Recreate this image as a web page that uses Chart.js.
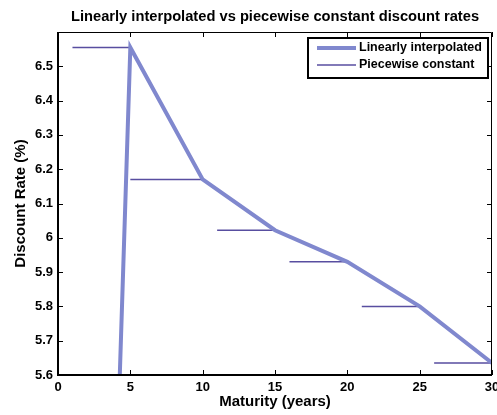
<!DOCTYPE html>
<html>
<head>
<meta charset="utf-8">
<script src="https://cdn.jsdelivr.net/npm/chart.js@4.4.1/dist/chart.umd.min.js"></script>
<style>
  html, body { margin: 0; padding: 0; background: #fff; }
</style>
</head>
<body>
<canvas id="myChart" width="497" height="415"></canvas>
<script>
// linearly interpolated curve
var maturities = [0, 5, 10, 15, 20, 25, 30];
var linearRates = [0, 6.555, 6.17, 6.022, 5.93, 5.80, 5.635];

// piecewise constant segments
var segStart = [1, 5, 11, 16, 21, 26];
var segEnd = [5, 10, 15, 20, 25, 30];
var segRates = [6.555, 6.17, 6.022, 5.93, 5.80, 5.635];

var xTicks = [0, 5, 10, 15, 20, 25, 30];
var yTicks = [5.6, 5.7, 5.8, 5.9, 6, 6.1, 6.2, 6.3, 6.4, 6.5];

var titleText = 'Linearly interpolated vs piecewise constant discount rates';
var FONT = "'Liberation Sans', Arial, sans-serif";

var linearColor = 'rgb(128,136,206)';
var pieceColor = 'rgb(88,78,160)';

// build points
var linearPoints = maturities.map(function(m, i) {
  return { x: m, y: linearRates[i] };
});
var piecePoints = [];
for (var i in segStart) {
  piecePoints.push({ x: segStart[i], y: segRates[i] });
  piecePoints.push({ x: segEnd[i], y: segRates[i] });
  piecePoints.push({ x: segEnd[i], y: null });
}

// frame, inward ticks, title, legend
var decorPlugin = {
  id: 'decor',
  afterDraw: function(chart) {
    var ctx = chart.ctx;
    var a = chart.chartArea;
    var xs = chart.scales.x, ys = chart.scales.y;
    ctx.save();
    ctx.strokeStyle = '#000';
    ctx.lineWidth = 1;
    ctx.beginPath();
    xTicks.forEach(function(t) {
      var px = Math.round(xs.getPixelForValue(t)) + 0.5;
      ctx.moveTo(px, a.bottom); ctx.lineTo(px, a.bottom - 5);
      ctx.moveTo(px, a.top); ctx.lineTo(px, a.top + 5);
    });
    yTicks.forEach(function(t) {
      var py = Math.round(ys.getPixelForValue(t)) + 0.5;
      ctx.moveTo(a.left, py); ctx.lineTo(a.left + 5, py);
      ctx.moveTo(a.right, py); ctx.lineTo(a.right - 5, py);
    });
    ctx.stroke();

    // box
    ctx.lineWidth = 1;
    ctx.beginPath();
    ctx.moveTo(a.left, a.top + 0.5); ctx.lineTo(a.right - 0.5, a.top + 0.5);
    ctx.lineTo(a.right - 0.5, a.bottom);
    ctx.stroke();
    ctx.lineWidth = 2;
    ctx.beginPath();
    ctx.moveTo(a.left, a.top); ctx.lineTo(a.left, a.bottom);
    ctx.lineTo(a.right, a.bottom);
    ctx.stroke();

    // title
    ctx.fillStyle = '#000';
    ctx.font = 'bold 14.7px ' + FONT;
    ctx.textAlign = 'center';
    ctx.textBaseline = 'alphabetic';
    ctx.fillText(titleText, (a.left + a.right) / 2, 21);

    // legend
    var lx = 308, ly = 38, lw = 180, lh = 40;
    ctx.fillStyle = '#fff';
    ctx.fillRect(lx, ly, lw, lh);
    ctx.lineWidth = 2;
    ctx.strokeStyle = '#000';
    ctx.strokeRect(lx, ly, lw, lh);
    ctx.font = 'bold 12.5px ' + FONT;
    ctx.textAlign = 'left';
    ctx.textBaseline = 'middle';
    chart.data.datasets.forEach(function(ds, k) {
      var yy = ly + 10 + k * 17;
      ctx.strokeStyle = ds.borderColor;
      ctx.lineWidth = ds.borderWidth;
      ctx.beginPath();
      ctx.moveTo(lx + 9, yy); ctx.lineTo(lx + 48, yy);
      ctx.stroke();
      ctx.fillStyle = '#000';
      ctx.fillText(ds.label, lx + 51, yy);
    });
    ctx.restore();
  }
};

var ctx = document.getElementById('myChart').getContext('2d');
var myChart = new Chart(ctx, {
  type: 'line',
  data: {
    datasets: [
      {
        label: 'Linearly interpolated',
        data: linearPoints,
        borderColor: linearColor,
        borderWidth: 4,
        pointRadius: 0,
        order: 0
      },
      {
        label: 'Piecewise constant',
        data: piecePoints,
        borderColor: pieceColor,
        borderWidth: 1.5,
        pointRadius: 0,
        spanGaps: false,
        order: 1
      }
    ]
  },
  options: {
    responsive: false,
    animation: false,
    layout: { padding: { top: 32, right: 5, left: 0, bottom: 0 } },
    plugins: {
      legend: { display: false },
      title: { display: false },
      tooltip: { enabled: false }
    },
    scales: {
      x: {
        type: 'linear',
        min: 0,
        max: 30,
        grid: { display: false, drawTicks: false },
        border: { display: false },
        afterFit: function(s) { s.height = 40; s.paddingLeft = 0; s.paddingRight = 0; },
        afterBuildTicks: function(s) {
          s.ticks = xTicks.map(function(v) { return { value: v }; });
        },
        ticks: {
          padding: 5,
          color: '#000',
          font: { family: FONT, size: 13, weight: 'bold' },
          maxRotation: 0,
          callback: function(v) { return String(v); }
        },
        title: {
          display: true,
          text: 'Maturity (years)',
          color: '#000',
          font: { family: FONT, size: 15, weight: 'bold' },
          padding: { top: 0, bottom: 4 }
        }
      },
      y: {
        min: 5.6,
        max: 6.6,
        grid: { display: false, drawTicks: false },
        border: { display: false },
        afterFit: function(s) { s.width = 58; s.paddingTop = 0; s.paddingBottom = 0; },
        afterBuildTicks: function(s) {
          s.ticks = yTicks.map(function(v) { return { value: v }; });
        },
        ticks: {
          padding: 5,
          color: '#000',
          font: { family: FONT, size: 13, weight: 'bold' },
          callback: function(v) { return String(Math.round(v * 10) / 10); }
        },
        title: {
          display: true,
          text: 'Discount Rate (%)',
          color: '#000',
          font: { family: FONT, size: 15, weight: 'bold' },
          padding: { top: 12, bottom: 0 }
        }
      }
    }
  },
  plugins: [decorPlugin]
});
</script>
</body>
</html>
